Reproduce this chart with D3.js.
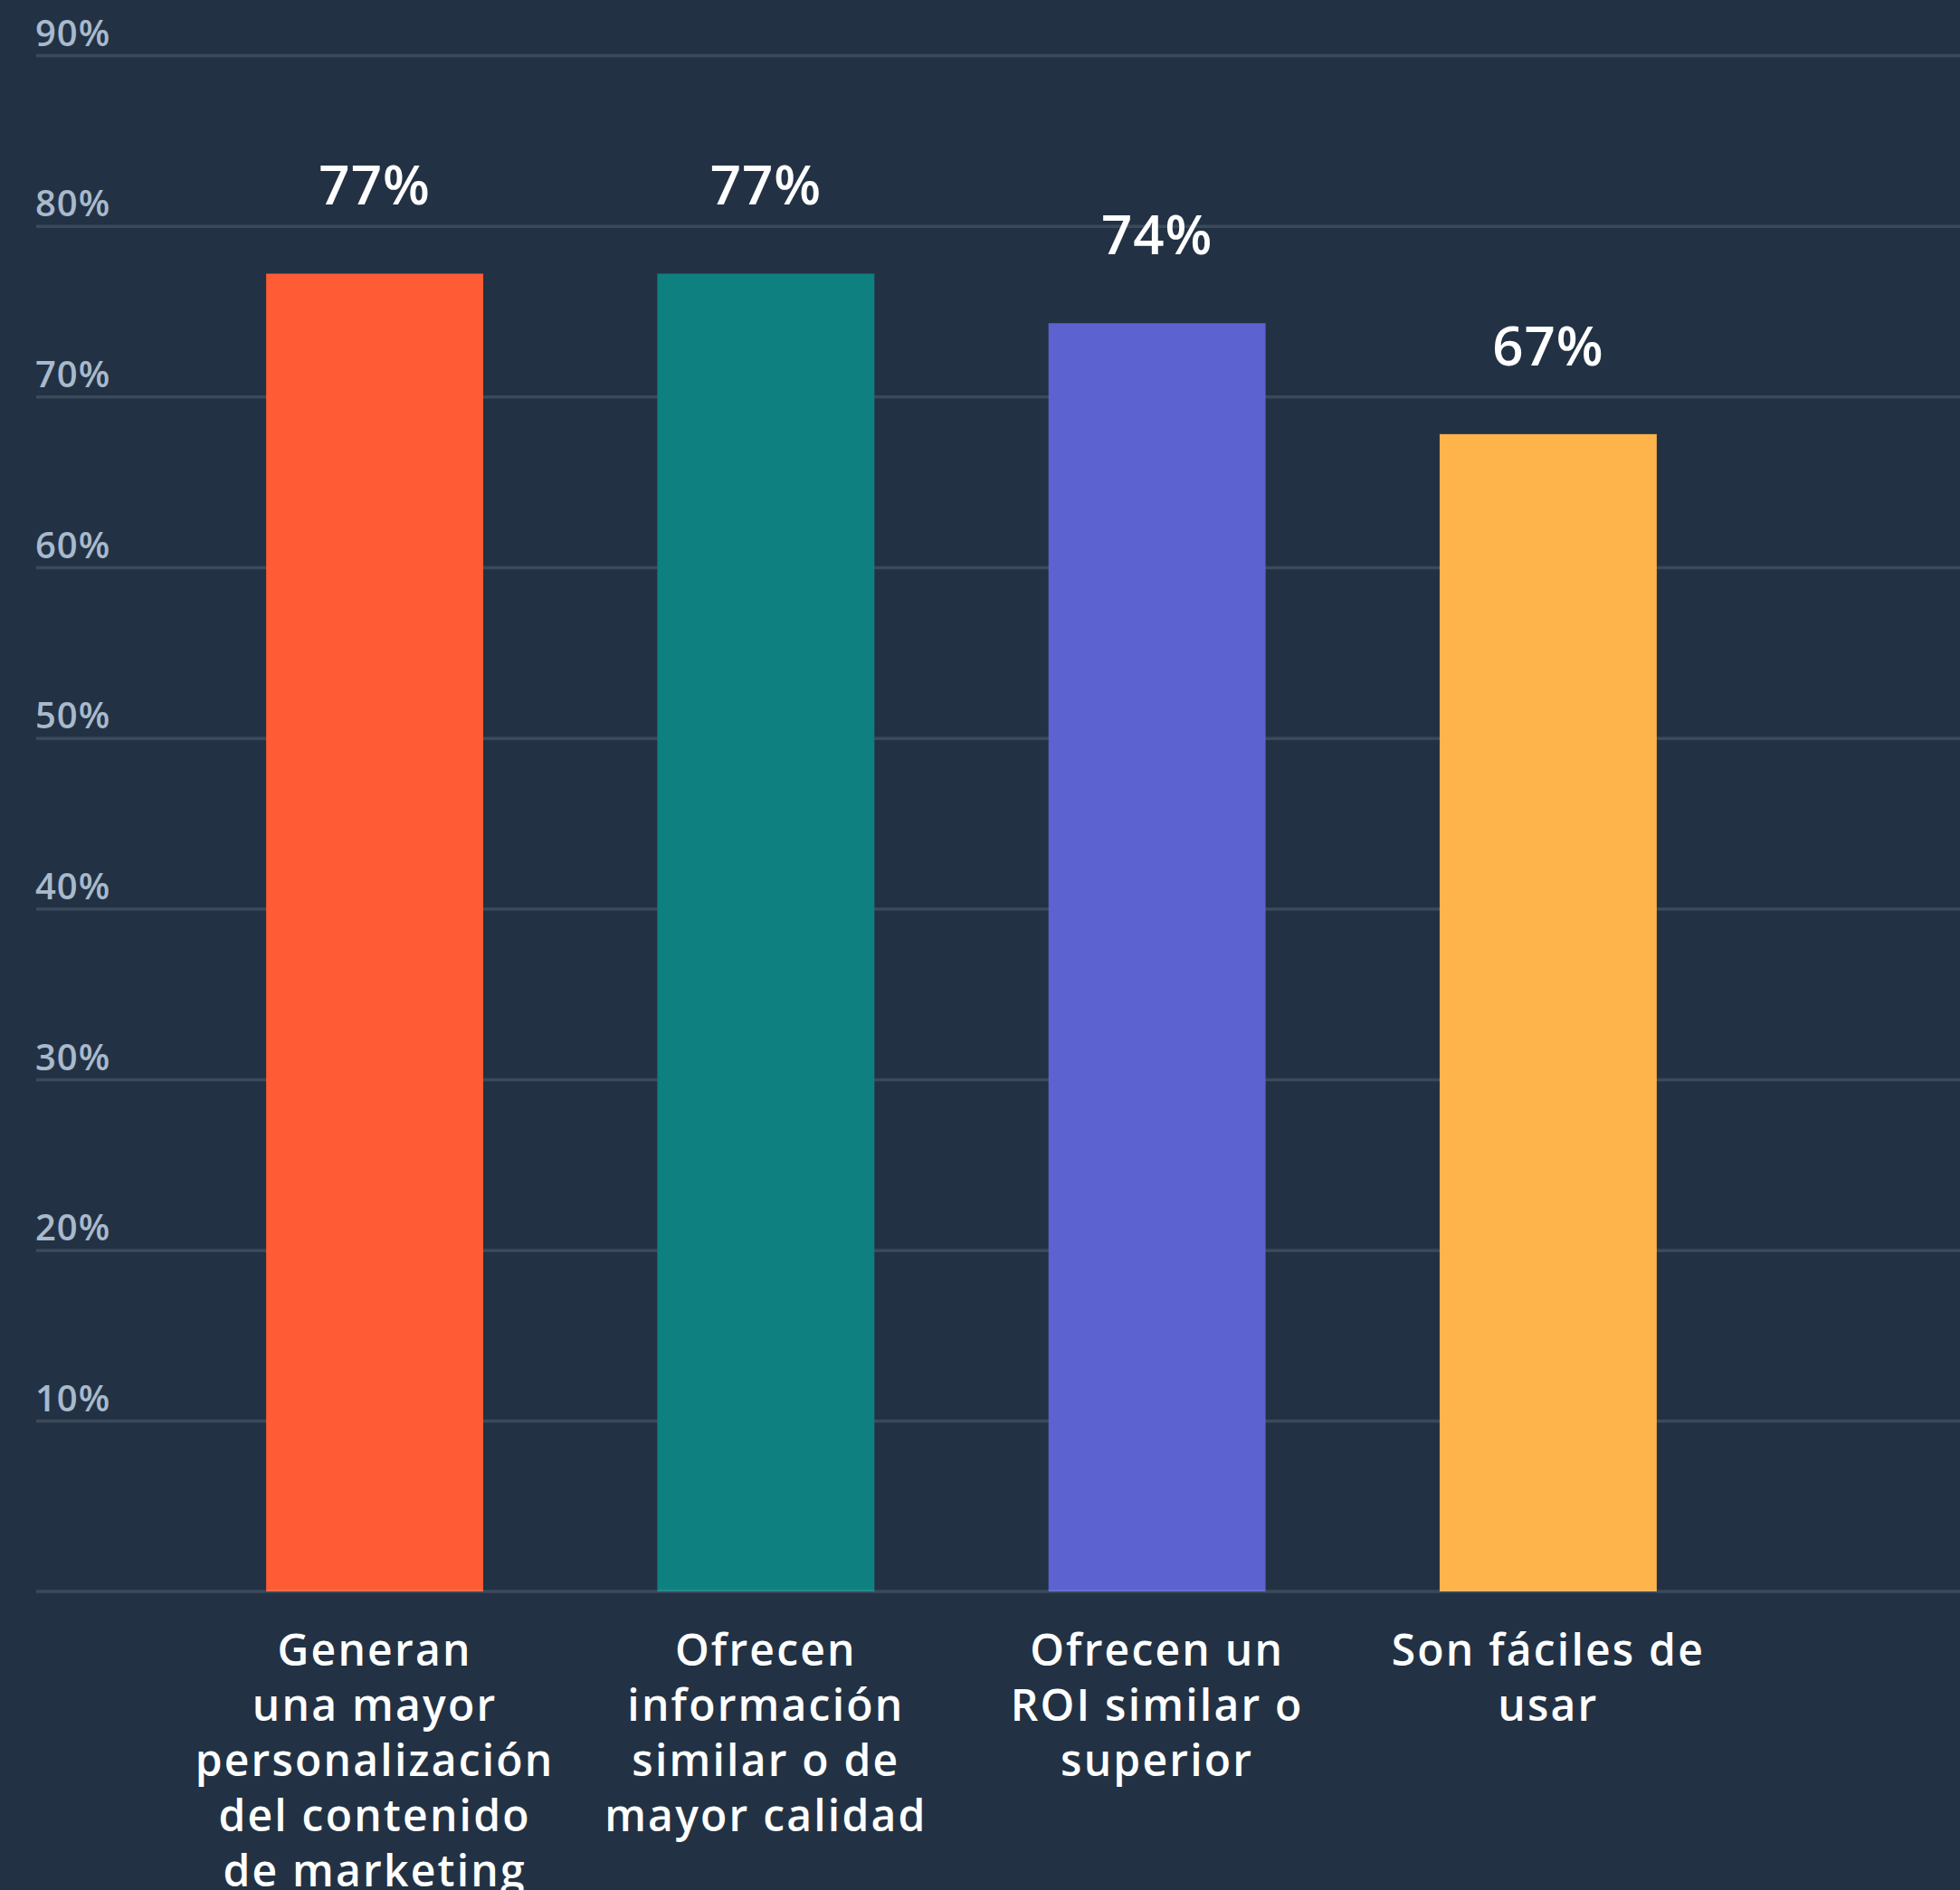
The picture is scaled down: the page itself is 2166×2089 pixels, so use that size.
<!DOCTYPE html>
<html>
<head>
<meta charset="utf-8">
<script src="https://cdn.jsdelivr.net/npm/d3@7"></script>
<style>
  html, body { margin: 0; padding: 0; background: #223244; }
  svg { display: block; }
</style>
</head>
<body>
<svg id="chart"></svg>
<script>
// ---- data ----
const categories = [
  ["Generan", "una mayor", "personalización", "del contenido", "de marketing"],
  ["Ofrecen", "información", "similar o de", "mayor calidad"],
  ["Ofrecen un", "ROI similar o", "superior"],
  ["Son fáciles de", "usar"]
];
const values = [77.2, 77.2, 74.3, 67.8];
const valueLabels = ["77%", "77%", "74%", "67%"];
const barColors = ["#FF5C35", "#0E8080", "#5C62D0", "#FFB34B"];
const tickValues = [10, 20, 30, 40, 50, 60, 70, 80, 90];
const tickLabels = ["10%", "20%", "30%", "40%", "50%", "60%", "70%", "80%", "90%"];

// ---- layout ----
const W = 2166, H = 2089;
const font = "'Open Sans', 'Noto Sans', sans-serif";
const svg = d3.select("#chart").attr("width", W).attr("height", H);
svg.append("rect").attr("width", W).attr("height", H).attr("fill", "#223244");

const y = d3.scaleLinear().domain([0, 90]).range([1759, 61]);
const x = d3.scaleBand().domain(d3.range(categories.length))
  .range([78, 2047]).paddingInner(0.445).paddingOuter(0.5);

const gridLeft = 40;
const gridColor = "rgba(203,214,226,0.15)";

// gridlines + tick labels via axis
const yAxis = d3.axisLeft(y).tickValues(tickValues)
  .tickSize(-(W - gridLeft)).tickFormat((d, i) => tickLabels[i]);
const gAxis = svg.append("g").attr("transform", `translate(${gridLeft},0)`).call(yAxis);
gAxis.select(".domain").remove();
gAxis.selectAll(".tick line").attr("stroke", gridColor).attr("stroke-width", 3.5);
gAxis.selectAll(".tick text")
  .attr("x", -1).attr("dy", -11).attr("text-anchor", "start")
  .attr("dominant-baseline", "auto")
  .attr("fill", "#A9B9CC").attr("font-family", font)
  .attr("font-size", 40).attr("font-weight", 600)
  .attr("letter-spacing", 1);

// bars
svg.append("g").selectAll("rect").data(values).join("rect")
  .attr("x", (d, i) => x(i))
  .attr("width", x.bandwidth())
  .attr("y", d => y(d))
  .attr("height", d => y(0) - y(d))
  .attr("fill", (d, i) => barColors[i]);

// baseline drawn on top
svg.append("line")
  .attr("x1", gridLeft).attr("x2", W)
  .attr("y1", y(0)).attr("y2", y(0))
  .attr("stroke", gridColor).attr("stroke-width", 3.5);

// value labels
svg.append("g").selectAll("text").data(values).join("text")
  .attr("x", (d, i) => x(i) + x.bandwidth() / 2)
  .attr("y", d => y(d) - 76)
  .attr("text-anchor", "middle")
  .attr("fill", "#ffffff").attr("font-family", font)
  .attr("font-size", 60).attr("font-weight", 600)
  .attr("letter-spacing", 1)
  .text((d, i) => valueLabels[i]);

// category labels
const lineH = 61;
const cat = svg.append("g").selectAll("text").data(categories).join("text")
  .attr("x", (d, i) => x(i) + x.bandwidth() / 2)
  .attr("y", y(0) + 82)
  .attr("text-anchor", "middle")
  .attr("fill", "#ffffff").attr("font-family", font)
  .attr("font-size", 48).attr("font-weight", 600)
  .attr("letter-spacing", 2.2);
cat.each(function(lines, i) {
  d3.select(this).selectAll("tspan").data(lines).join("tspan")
    .attr("x", x(i) + x.bandwidth() / 2)
    .attr("dy", (d, j) => j === 0 ? 0 : lineH)
    .text(d => d);
});
</script>
</body>
</html>
